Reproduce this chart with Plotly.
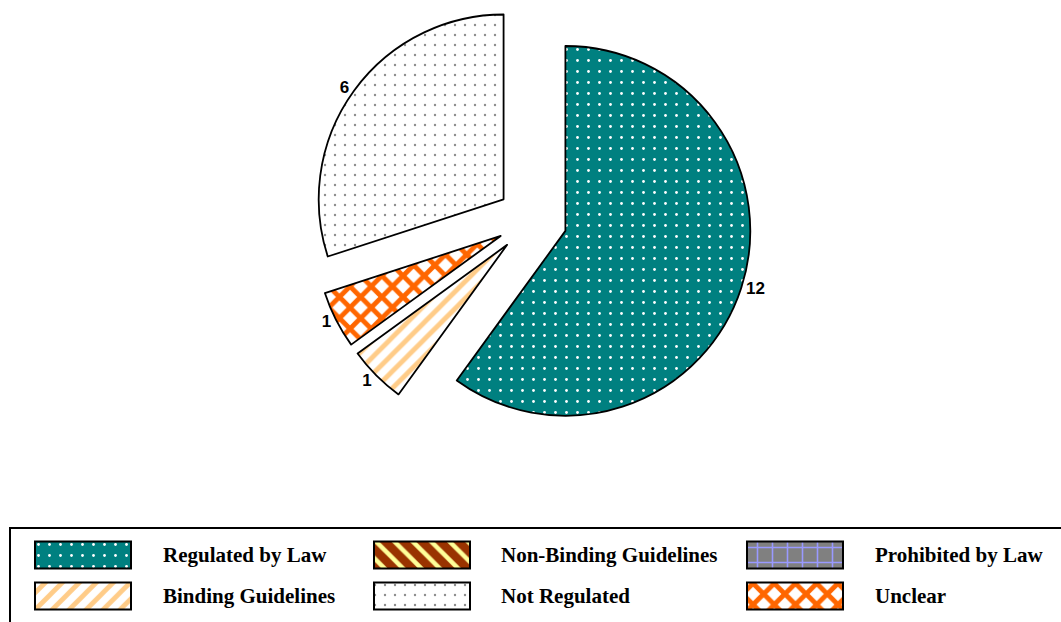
import plotly.graph_objects as go

# ---------------- data ----------------
categories = ["Regulated by Law", "Non-Binding Guidelines", "Prohibited by Law",
              "Binding Guidelines", "Not Regulated", "Unclear"]
counts = [12, 0, 0, 1, 6, 1]
# clockwise order of slices in the pie (starting at 12 o'clock)
pie_order = ["Regulated by Law", "Binding Guidelines", "Unclear", "Not Regulated"]

# ---------------- styles ----------------
styles = {
    "Regulated by Law":       dict(bg="#008080", fg="#FFFFFF", shape=".",  size=11, solidity=0.05),
    "Non-Binding Guidelines": dict(bg="#993300", fg="#FFFF99", shape="\\", size=13, solidity=0.35),
    "Prohibited by Law":      dict(bg="#808080", fg="#9999FF", shape="+",  size=15, solidity=0.2),
    "Binding Guidelines":     dict(bg="#FFFFFF", fg="#FFCC88", shape="/",  size=12, solidity=0.40),
    "Not Regulated":          dict(bg="#FFFFFF", fg="#8C8C8C", shape=".",  size=10, solidity=0.045),
    "Unclear":                dict(bg="#FFFFFF", fg="#FF6600", shape="x",  size=15, solidity=0.55),
}

value_of = dict(zip(categories, counts))
pie_values = [value_of[c] for c in pie_order]

W, H = 1061, 622
cx, cy, half = 532, 220, 220  # pie box centre (px from top-left) and half size

fig = go.Figure()

fig.add_trace(go.Pie(
    labels=pie_order,
    values=pie_values,
    sort=False,
    direction="clockwise",
    rotation=0,
    pull=[0.19] * len(pie_order),
    texttemplate="<b>%{value}</b>",
    textposition="outside",
    automargin=False,
    textfont=dict(family="Liberation Sans, Arial, sans-serif", size=17, color="black"),
    outsidetextfont=dict(family="Liberation Sans, Arial, sans-serif", size=17, color="black"),
    marker=dict(
        colors=[styles[c]["bg"] for c in pie_order],
        line=dict(color="black", width=1.8),
        pattern=dict(
            shape=[styles[c]["shape"] for c in pie_order],
            bgcolor=[styles[c]["bg"] for c in pie_order],
            fgcolor=[styles[c]["fg"] for c in pie_order],
            size=[styles[c]["size"] for c in pie_order],
            solidity=[styles[c]["solidity"] for c in pie_order],
            fillmode="replace",
        ),
    ),
    domain=dict(x=[(cx - half) / W, (cx + half) / W],
                y=[(H - cy - half) / H, (H - cy + half) / H]),
    showlegend=False,
    hoverinfo="label+value",
))

# ---------------- legend box (drawn on a hidden pixel-scaled axis) ----------------
col_x = [35, 374, 747]
text_x = [161, 499, 873]
row_y = [555, 596]
sw_w, sw_h = 96, 27

for i, cat in enumerate(categories):
    col, row = i % 3, i // 3
    s = styles[cat]
    fig.add_trace(go.Bar(
        orientation="h",
        y=[row_y[row]],
        x=[sw_w],
        base=[col_x[col]],
        width=sw_h,
        marker=dict(
            color=s["bg"],
            line=dict(color="black", width=2),
            pattern=dict(shape=s["shape"], bgcolor=s["bg"], fgcolor=s["fg"],
                         size=s["size"], solidity=s["solidity"], fillmode="replace"),
        ),
        showlegend=False,
        hoverinfo="skip",
        name=cat,
    ))
    fig.add_annotation(
        x=text_x[col], y=row_y[row], xref="x", yref="y",
        text="<b>" + cat + "</b>", showarrow=False,
        xanchor="left", yanchor="middle",
        font=dict(family="Liberation Serif, Times New Roman, serif", size=21, color="black"),
    )

fig.add_shape(type="rect", xref="x", yref="y", x0=10, x1=W + 10, y0=528, y1=H + 10,
              line=dict(color="black", width=2), fillcolor="rgba(0,0,0,0)", layer="below")

fig.update_layout(
    width=W, height=H,
    margin=dict(l=0, r=0, t=0, b=0, pad=0, autoexpand=False),
    paper_bgcolor="white",
    plot_bgcolor="rgba(0,0,0,0)",
    barmode="overlay",
    showlegend=False,
    xaxis=dict(range=[0, W], domain=[0, 1], visible=False, fixedrange=True),
    yaxis=dict(range=[H, 0], domain=[0, 1], visible=False, fixedrange=True),
)

fig.write_html("out.html")
